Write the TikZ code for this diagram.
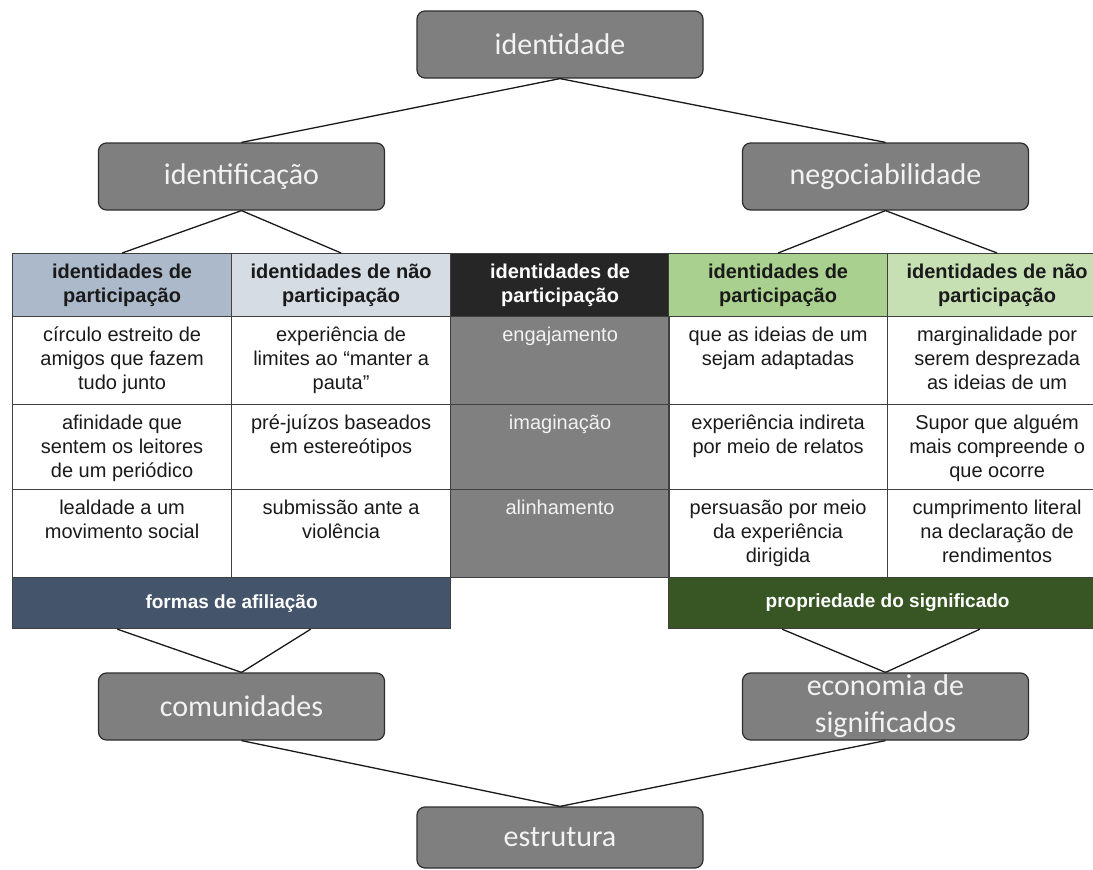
\documentclass[tikz,border=0pt]{standalone}
\usepackage{fontspec}
\setmainfont{Liberation Sans}
\newfontfamily\conceptfont{Carlito}
\usepackage{tikz}
\usetikzlibrary{positioning, calc}
\usepackage{xcolor}

\definecolor{conceptfill}{HTML}{7F7F7F}
\definecolor{conceptline}{HTML}{2E2E2E}
\definecolor{concepttext}{HTML}{F2F2F2}
\definecolor{gridline}{HTML}{404040}
\definecolor{blueA}{HTML}{ACB9CA}
\definecolor{blueB}{HTML}{D6DCE4}
\definecolor{blueC}{HTML}{44546A}
\definecolor{greenA}{HTML}{A9D08E}
\definecolor{greenB}{HTML}{C6E0B4}
\definecolor{greenC}{HTML}{375623}
\definecolor{midhead}{HTML}{262626}
\definecolor{midgray}{HTML}{808080}
\definecolor{inktext}{HTML}{1A1A1A}

% top-aligned cell text of a given height
\newcommand{\cellpar}[2]{\parbox[c][#1][t]{208pt}{\centering\rule{0pt}{25pt}#2}}

\begin{document}
\begin{tikzpicture}[x=1pt, y=-1pt,
  concept/.style={
    draw=conceptline, fill=conceptfill, rounded corners=8pt, line width=1.2pt,
    minimum width=286pt, minimum height=67pt, inner sep=0pt,
    font=\conceptfont\fontsize{30}{37}\selectfont, text=concepttext, align=center},
  cell/.style={
    draw=gridline, line width=1.2pt, anchor=north west, inner sep=0pt,
    minimum width=219pt, text=inktext, font=\fontsize{20}{24}\selectfont},
  headcell/.style={cell, minimum height=63pt, align=center,
    font=\bfseries\fontsize{20}{24}\selectfont},
  midcell/.style={cell, fill=midgray, text=concepttext},
  band/.style={cell, minimum width=438pt, minimum height=51pt, text=white,
    font=\bfseries\fontsize{19}{23}\selectfont},
  link/.style={line width=1.3pt, black!90}]

\useasboundingbox (0,0) rectangle (1093,870);

% --- header row of the table ---
\node[headcell, fill=blueA] (h1) at (12,253) {identidades de\\participação};
\node[headcell, fill=blueB] (h2) at (231,253) {identidades de não\\participação};
\node[headcell, fill=midhead, text=white] (h3) at (450,253) {identidades de\\participação};
\node[headcell, fill=greenA] (h4) at (668,253) {identidades de\\participação};
\node[headcell, fill=greenB] (h5) at (887,253) {identidades de não\\participação};

% --- first row ---
\node[cell] (c11) at (12,316) {\cellpar{88pt}{círculo estreito de\\amigos que fazem\\tudo junto}};
\node[cell] (c12) at (231,316) {\cellpar{88pt}{experiência de\\limites ao “manter a\\pauta”}};
\node[midcell] (c13) at (450,316) {\cellpar{88pt}{engajamento}};
\node[cell] (c14) at (668,316) {\cellpar{88pt}{que as ideias de um\\sejam adaptadas}};
\node[cell] (c15) at (887,316) {\cellpar{88pt}{marginalidade por\\serem desprezada\\as ideias de um}};

% --- second row ---
\node[cell] (c21) at (12,404) {\cellpar{85pt}{afinidade que\\sentem os leitores\\de um periódico}};
\node[cell] (c22) at (231,404) {\cellpar{85pt}{pré-juízos baseados\\em estereótipos}};
\node[midcell] (c23) at (450,404) {\cellpar{85pt}{imaginação}};
\node[cell] (c24) at (668,404) {\cellpar{85pt}{experiência indireta\\por meio de relatos}};
\node[cell] (c25) at (887,404) {\cellpar{85pt}{Supor que alguém\\mais compreende o\\que ocorre}};

% --- third row ---
\node[cell] (c31) at (12,489) {\cellpar{88pt}{lealdade a um\\movimento social}};
\node[cell] (c32) at (231,489) {\cellpar{88pt}{submissão ante a\\violência}};
\node[midcell] (c33) at (450,489) {\cellpar{88pt}{alinhamento}};
\node[cell] (c34) at (668,489) {\cellpar{88pt}{persuasão por meio\\da experiência\\dirigida}};
\node[cell] (c35) at (887,489) {\cellpar{88pt}{cumprimento literal\\na declaração de\\rendimentos}};

% --- bottom bands ---
\node[band, fill=blueC] (afiliacao) at (12,577) {formas de afiliação};
\node[band, fill=greenC] (significado) at (668,577) {propriedade do significado};

% --- concept boxes ---
\node[concept] (identidade) at (560,44.5) {identidade};
\node[concept] (identificacao) at (241.5,176.5) {identificação};
\node[concept] (negociabilidade) at (885.5,176.5) {negociabilidade};
\node[concept] (comunidades) at (241.5,706.5) {comunidades};
\node[concept] (economia) at (885.5,706.5) {economia de\\significados};
\node[concept, minimum height=61pt] (estrutura) at (560,837.5) {estrutura};

% --- connectors ---
\draw[link] (identidade.south) -- (identificacao.north);
\draw[link] (identidade.south) -- (negociabilidade.north);
\draw[link] (identificacao.south) -- (h1.north);
\draw[link] (identificacao.south) -- (h2.north);
\draw[link] (negociabilidade.south) -- (h4.north);
\draw[link] (negociabilidade.south) -- (h5.north);
\draw[link] ($(afiliacao.south west)!0.24!(afiliacao.south east)$) -- (comunidades.north);
\draw[link] ($(afiliacao.south west)!0.68!(afiliacao.south east)$) -- (comunidades.north);
\draw[link] ($(significado.south west)!0.26!(significado.south east)$) -- (economia.north);
\draw[link] ($(significado.south west)!0.71!(significado.south east)$) -- (economia.north);
\draw[link] (comunidades.south) -- (estrutura.north);
\draw[link] (economia.south) -- (estrutura.north);
\end{tikzpicture}
\end{document}
